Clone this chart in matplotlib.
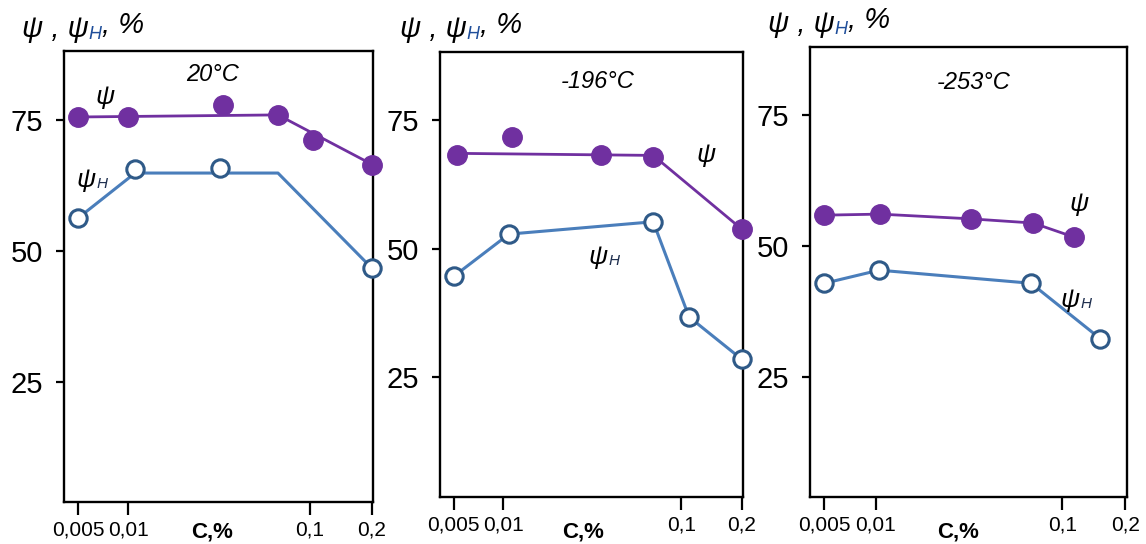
import numpy as np
import matplotlib
matplotlib.use("Agg")
import matplotlib.pyplot as plt
from matplotlib.ticker import NullLocator

plt.rcParams['font.family'] = ['Liberation Sans', 'DejaVu Sans']

# ---------------- data ----------------
C_ticks = [0.005, 0.01, 0.1, 0.2]
C_tick_labels = ['0,005', '0,01', '0,1', '0,2']
y_ticks = [25, 50, 75]
temps = ['20°C', '-196°C', '-253°C']

# panel 1 : 20 °C
p1_psi_C = [0.005, 0.01, 0.0333, 0.0667, 0.1035, 0.2]
p1_psi = [75.6, 75.6, 77.9, 76.0, 71.2, 66.4]
p1_psi_line_C = [0.005, 0.01, 0.0667, 0.2]
p1_psi_line = [75.6, 75.7, 76.0, 66.6]
p1_psiH_C = [0.005, 0.0109, 0.032, 0.2]
p1_psiH = [56.3, 65.6, 65.8, 46.8]
p1_psiH_line_C = [0.005, 0.0109, 0.0667, 0.2]
p1_psiH_line = [56.3, 64.9, 64.9, 46.8]

# panel 2 : -196 °C
p2_psi_C = [0.0052, 0.0112, 0.0355, 0.0697, 0.2]
p2_psi = [68.2, 71.7, 68.2, 67.8, 53.8]
p2_psi_line_C = [0.0052, 0.0697, 0.2]
p2_psi_line = [68.5, 68.1, 53.8]
p2_psiH_C = [0.005, 0.0108, 0.0697, 0.1095, 0.2]
p2_psiH = [44.6, 52.8, 55.2, 36.7, 28.5]
p2_psiH_line_C = p2_psiH_C
p2_psiH_line = p2_psiH

# panel 3 : -253 °C
p3_psi_C = [0.005, 0.0105, 0.0322, 0.0697, 0.114]
p3_psi = [55.9, 56.1, 55.2, 54.4, 51.7]
p3_psi_line_C = p3_psi_C
p3_psi_line = p3_psi
p3_psiH_C = [0.005, 0.0104, 0.068, 0.152]
p3_psiH = [42.9, 45.4, 42.9, 32.3]
p3_psiH_line_C = p3_psiH_C
p3_psiH_line = p3_psiH

# ---------------- axis scale (quasi-log as drawn in the source) ----------------
LOGT = np.log10(C_ticks)
U = np.array([0.0, 0.171, 0.79, 1.0])


def _pw(v, xs, ys):
    v = np.asarray(v, dtype=float)
    y = np.interp(v, xs, ys)
    lo = v < xs[0]
    hi = v > xs[-1]
    y = np.where(lo, ys[0] + (v - xs[0]) * (ys[1] - ys[0]) / (xs[1] - xs[0]), y)
    y = np.where(hi, ys[-1] + (v - xs[-1]) * (ys[-1] - ys[-2]) / (xs[-1] - xs[-2]), y)
    return y


def fwd(x):
    return _pw(np.log10(np.maximum(np.asarray(x, dtype=float), 1e-9)), LOGT, U)


def inv(u):
    return 10 ** _pw(u, U, LOGT)


PURPLE = '#7030A0'
BLUE_LINE = '#4A7EBB'
BLUE_EDGE = '#2F5A88'
W, H = 1146, 544

FS_YT = 21
FS_XT = 15
FS_YL = 21
FS_SUB = 13
FS_T = 17
FS_XL = 16
FS_LAB = 19
FS_LSUB = 11

fig = plt.figure(figsize=(W / 100, H / 100), dpi=100)

panels = [
    dict(px=(64, 373, 51, 502), ylim=(2.1, 88.2),
         psi=(p1_psi_C, p1_psi), psi_line=(p1_psi_line_C, p1_psi_line),
         psiH=(p1_psiH_C, p1_psiH), psiH_line=(p1_psiH_line_C, p1_psiH_line),
         lab_psi=(0.133, 0.898), lab_psiH=(0.071, 0.714), lab_T=(0.482, 0.947),
         xlab=(0.479, -0.0665), ylab=(22, 37)),
    dict(px=(440, 743, 52, 497), ylim=(1.7, 88.2),
         psi=(p2_psi_C, p2_psi), psi_line=(p2_psi_line_C, p2_psi_line),
         psiH=(p2_psiH_C, p2_psiH), psiH_line=(p2_psiH_line_C, p2_psiH_line),
         lab_psi=(0.878, 0.769), lab_psiH=(0.521, 0.539), lab_T=(0.521, 0.933),
         xlab=(0.472, -0.079), ylab=(400, 37)),
    dict(px=(810, 1127, 47, 497), ylim=(2.1, 88.0),
         psi=(p3_psi_C, p3_psi), psi_line=(p3_psi_line_C, p3_psi_line),
         psiH=(p3_psiH_C, p3_psiH), psiH_line=(p3_psiH_line_C, p3_psiH_line),
         lab_psi=(0.849, 0.651), lab_psiH=(0.820, 0.438), lab_T=(0.517, 0.922),
         xlab=(0.467, -0.078), ylab=(768, 32)),
]

for i, p in enumerate(panels):
    l, r, t, b = p['px']
    ax = fig.add_axes([l / W, (H - b) / H, (r - l) / W, (b - t) / H])
    ax.set_xscale('function', functions=(fwd, inv))
    ax.set_xlim(float(inv(-0.048)), float(inv(1.005)))
    ax.set_ylim(*p['ylim'])

    # lines
    ax.plot(*p['psi_line'], color=PURPLE, lw=2.0, zorder=2)
    ax.plot(*p['psiH_line'], color=BLUE_LINE, lw=2.2, zorder=2)
    # markers
    ax.plot(*p['psi'], ls='none', marker='o', ms=14, mfc=PURPLE, mec=PURPLE,
            zorder=3, clip_on=False)
    ax.plot(*p['psiH'], ls='none', marker='o', ms=12.5, mfc='white', mec=BLUE_EDGE,
            mew=2.2, zorder=3, clip_on=False)

    # ticks
    ax.set_xticks(C_ticks)
    ax.set_xticklabels(C_tick_labels)
    ax.xaxis.set_minor_locator(NullLocator())
    ax.set_yticks(y_ticks)
    ax.set_yticklabels([str(v) for v in y_ticks])
    ax.tick_params(axis='x', direction='out', length=9.5, width=1.6, labelsize=FS_XT,
                   pad=4)
    ax.tick_params(axis='y', direction='out', length=6, width=1.6, labelsize=FS_YT,
                   pad=9)
    for s in ax.spines.values():
        s.set_linewidth(1.7)
        s.set_color('black')

    # x label
    ax.text(p['xlab'][0], p['xlab'][1], 'C,%', transform=ax.transAxes,
            ha='center', va='center', fontsize=FS_XL, fontweight='bold')

    # temperature
    ax.text(p['lab_T'][0], p['lab_T'][1], temps[i], transform=ax.transAxes,
            ha='center', va='center', fontsize=FS_T, style='italic')

    # in-plot labels
    ax.text(p['lab_psi'][0], p['lab_psi'][1], 'ψ', transform=ax.transAxes,
            ha='center', va='center', fontsize=FS_LAB, style='italic')
    tpsi = ax.text(p['lab_psiH'][0], p['lab_psiH'][1], 'ψ', transform=ax.transAxes,
                   ha='center', va='center', fontsize=FS_LAB, style='italic')
    ax.annotate('H', xy=(1, 0), xycoords=tpsi, xytext=(1, 1),
                textcoords='offset points', ha='left', va='bottom',
                fontsize=FS_LSUB, style='italic', color='#1F2F4F')

    # y label "ψ , ψH, %"
    x0, yb = p['ylab']
    t1 = fig.text(x0 / W, (H - yb) / H, 'ψ , ψ', fontsize=FS_YL, style='italic',
                  ha='left', va='baseline')
    t2 = ax.annotate('H', xy=(1, 0), xycoords=t1, xytext=(0, 0),
                     textcoords='offset points', ha='left', va='bottom',
                     fontsize=FS_SUB, style='italic', color='#1F4E9A',
                     annotation_clip=False)
    ax.annotate(', %', xy=(1, 0), xycoords=t2, xytext=(0, 3),
                textcoords='offset points', ha='left', va='bottom',
                fontsize=FS_YL, style='italic', annotation_clip=False)

fig.savefig('out.png', dpi=100)
